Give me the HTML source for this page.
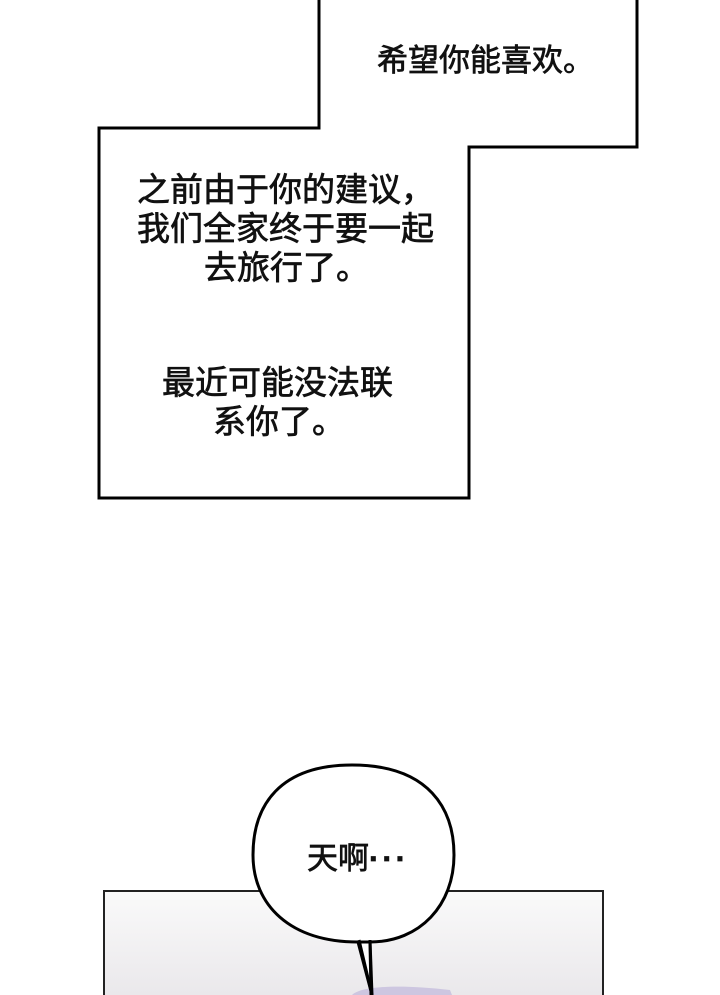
<!DOCTYPE html>
<html><head><meta charset="utf-8"><style>
html,body{margin:0;padding:0;background:#fff;}
body{width:720px;height:995px;position:relative;overflow:hidden;font-family:"Liberation Sans","Noto Sans CJK SC",sans-serif;color:#111;}
.t{position:absolute;font-size:33px;line-height:33px;white-space:nowrap;font-weight:normal;-webkit-text-stroke:0.7px #111;}
</style></head><body>
<svg width="720" height="995" style="position:absolute;left:0;top:0">
<defs>
<linearGradient id="g" x1="0" y1="0" x2="0" y2="1">
<stop offset="0" stop-color="#fafafa"/><stop offset="1" stop-color="#e9e7ea"/>
</linearGradient>
</defs>
<polygon points="319,-5 319,128 99,128 99,498 469,498 469,147 637,147 637,-5" fill="#fff" stroke="#000" stroke-width="3"/>
<rect x="104" y="891" width="499" height="110" fill="url(#g)" stroke="#222" stroke-width="2"/>
<path d="M352,995 C360,986 400,984 450,990 L452,995 Z" fill="#cdc6e0"/>
<path d="M358,942 L372,995 L371,995 L370,942" fill="#fff" stroke="#000" stroke-width="3"/>
<path d="M352,765 C430,765 454,810 454,855 C454,905 420,942 370,942 L358,942 C290,942 253,905 253,855 C253,805 280,765 352,765 Z" fill="#fff" stroke="#000" stroke-width="3"/>
<path d="M359,940 L372,995" stroke="#000" stroke-width="3"/>
<path d="M370,940 L372,995" stroke="#000" stroke-width="3"/>
</svg>
<div class="t" style="left:377px;top:44px;font-size:31px">希望你能喜欢。</div>
<div class="t" style="left:137px;top:173px">之前由于你的建议，</div>
<div class="t" style="left:137px;top:212px">我们全家终于要一起</div>
<div class="t" style="left:204px;top:251px">去旅行了。</div>
<div class="t" style="left:162px;top:366px">最近可能没法联</div>
<div class="t" style="left:213px;top:405px">系你了。</div>
<div class="t" style="left:307px;top:843px;font-size:31px;line-height:31px">天啊<span style="letter-spacing:3px;font-weight:bold">···</span></div>
</body></html>
